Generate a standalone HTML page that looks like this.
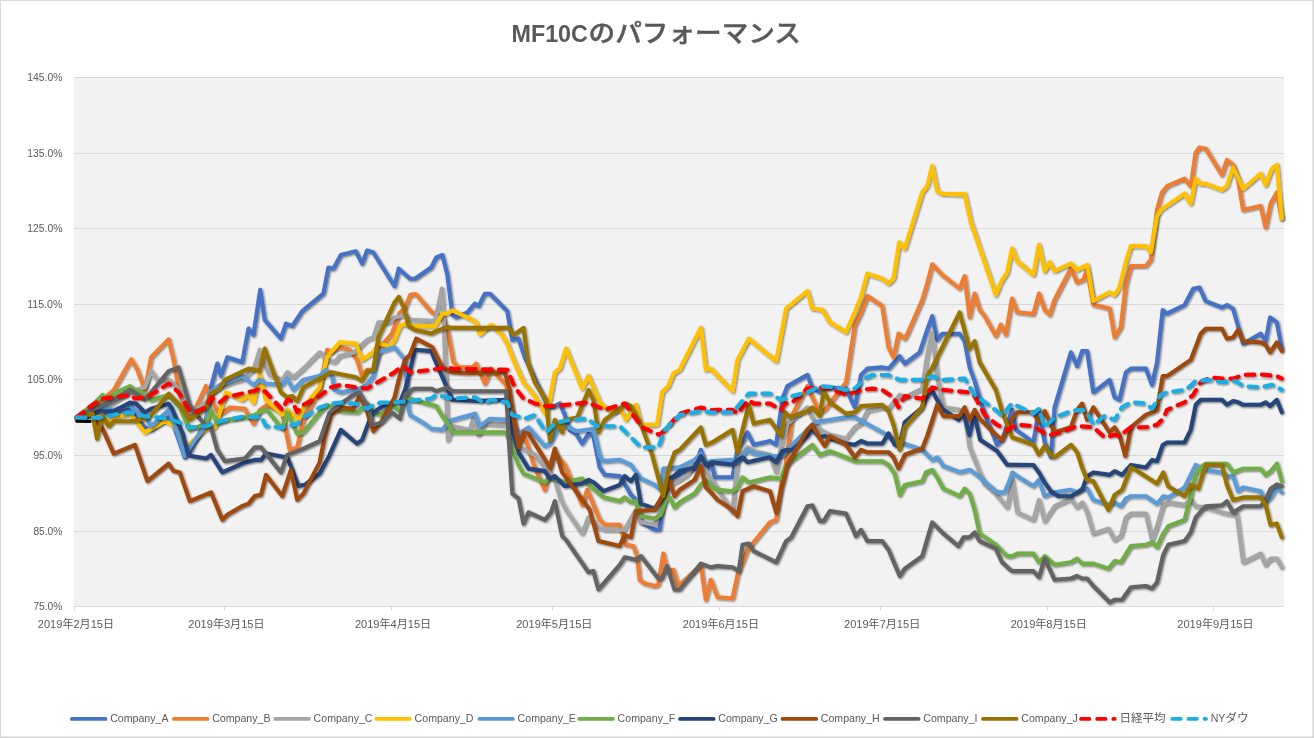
<!DOCTYPE html>
<html lang="ja"><head><meta charset="utf-8"><title>MF10Cのパフォーマンス</title>
<style>
html,body{margin:0;padding:0;background:#fff;}
body{width:1314px;height:738px;overflow:hidden;}
svg{display:block;}
text{font-family:"Liberation Sans","Noto Sans CJK JP",sans-serif;fill:#595959;}
.ax{font-size:11px;}
.ay{font-size:10.9px;}
.lg{font-size:10.6px;}
.jp{font-size:11.5px;}
.tl{font-size:23.5px;font-weight:bold;}
.tj{font-size:24.6px;font-weight:500;stroke:#595959;stroke-width:0.45px;font-family:"Liberation Sans","Noto Sans CJK JP",sans-serif;}
</style></head><body>
<svg width="1314" height="738" viewBox="0 0 1314 738">
<defs><filter id="sh" x="-2%" y="-2%" width="104%" height="108%"><feGaussianBlur in="SourceAlpha" stdDeviation="0.8"/><feOffset dx="0.5" dy="1.4"/><feComponentTransfer><feFuncA type="linear" slope="0.55"/></feComponentTransfer><feMerge><feMergeNode/><feMergeNode in="SourceGraphic"/></feMerge></filter></defs>
<rect x="0" y="0" width="1314" height="738" fill="#fff"/>
<rect x="0" y="0" width="1314" height="1" fill="#D9D9D9"/><rect x="0" y="0" width="1" height="738" fill="#D9D9D9"/><rect x="1312.5" y="0" width="1.5" height="738" fill="#D4D4D4"/><rect x="0" y="736.5" width="1314" height="1.5" fill="#D4D4D4"/>
<rect x="74" y="77" width="1210" height="529" fill="#F2F2F2"/>
<line x1="74" x2="1284" y1="77.5" y2="77.5" stroke="#D9D9D9" stroke-width="1"/>
<text x="62.4" y="81.3" text-anchor="end" class="ay" textLength="35.2" lengthAdjust="spacingAndGlyphs">145.0%</text>
<line x1="74" x2="1284" y1="153.5" y2="153.5" stroke="#D9D9D9" stroke-width="1"/>
<text x="62.4" y="157.3" text-anchor="end" class="ay" textLength="35.2" lengthAdjust="spacingAndGlyphs">135.0%</text>
<line x1="74" x2="1284" y1="228.5" y2="228.5" stroke="#D9D9D9" stroke-width="1"/>
<text x="62.4" y="232.3" text-anchor="end" class="ay" textLength="35.2" lengthAdjust="spacingAndGlyphs">125.0%</text>
<line x1="74" x2="1284" y1="304.5" y2="304.5" stroke="#D9D9D9" stroke-width="1"/>
<text x="62.4" y="308.3" text-anchor="end" class="ay" textLength="35.2" lengthAdjust="spacingAndGlyphs">115.0%</text>
<line x1="74" x2="1284" y1="379.5" y2="379.5" stroke="#D9D9D9" stroke-width="1"/>
<text x="62.4" y="383.3" text-anchor="end" class="ay" textLength="35.2" lengthAdjust="spacingAndGlyphs">105.0%</text>
<line x1="74" x2="1284" y1="455.5" y2="455.5" stroke="#D9D9D9" stroke-width="1"/>
<text x="62.4" y="459.3" text-anchor="end" class="ay" textLength="29.0" lengthAdjust="spacingAndGlyphs">95.0%</text>
<line x1="74" x2="1284" y1="531.5" y2="531.5" stroke="#D9D9D9" stroke-width="1"/>
<text x="62.4" y="535.3" text-anchor="end" class="ay" textLength="29.0" lengthAdjust="spacingAndGlyphs">85.0%</text>
<line x1="74" x2="1284" y1="606.5" y2="606.5" stroke="#D9D9D9" stroke-width="1"/>
<text x="62.4" y="610.3" text-anchor="end" class="ay" textLength="29.0" lengthAdjust="spacingAndGlyphs">75.0%</text>
<line x1="74.5" x2="74.5" y1="606" y2="610.5" stroke="#D9D9D9" stroke-width="1"/>
<text x="75.9" y="627.8" text-anchor="middle" class="ax" textLength="76.2" lengthAdjust="spacingAndGlyphs">2019年2月15日</text>
<line x1="224.5" x2="224.5" y1="606" y2="610.5" stroke="#D9D9D9" stroke-width="1"/>
<text x="226.4" y="627.8" text-anchor="middle" class="ax" textLength="76.2" lengthAdjust="spacingAndGlyphs">2019年3月15日</text>
<line x1="391.5" x2="391.5" y1="606" y2="610.5" stroke="#D9D9D9" stroke-width="1"/>
<text x="393.0" y="627.8" text-anchor="middle" class="ax" textLength="76.2" lengthAdjust="spacingAndGlyphs">2019年4月15日</text>
<line x1="552.5" x2="552.5" y1="606" y2="610.5" stroke="#D9D9D9" stroke-width="1"/>
<text x="554.3" y="627.8" text-anchor="middle" class="ax" textLength="76.2" lengthAdjust="spacingAndGlyphs">2019年5月15日</text>
<line x1="719.5" x2="719.5" y1="606" y2="610.5" stroke="#D9D9D9" stroke-width="1"/>
<text x="720.9" y="627.8" text-anchor="middle" class="ax" textLength="76.2" lengthAdjust="spacingAndGlyphs">2019年6月15日</text>
<line x1="880.5" x2="880.5" y1="606" y2="610.5" stroke="#D9D9D9" stroke-width="1"/>
<text x="882.1" y="627.8" text-anchor="middle" class="ax" textLength="76.2" lengthAdjust="spacingAndGlyphs">2019年7月15日</text>
<line x1="1047.5" x2="1047.5" y1="606" y2="610.5" stroke="#D9D9D9" stroke-width="1"/>
<text x="1048.8" y="627.8" text-anchor="middle" class="ax" textLength="76.2" lengthAdjust="spacingAndGlyphs">2019年8月15日</text>
<line x1="1213.5" x2="1213.5" y1="606" y2="610.5" stroke="#D9D9D9" stroke-width="1"/>
<text x="1215.4" y="627.8" text-anchor="middle" class="ax" textLength="76.2" lengthAdjust="spacingAndGlyphs">2019年9月15日</text>
<path d="M76.8 421.4 L90.3 421.5" fill="none" stroke="#000" stroke-width="2.8" stroke-linecap="round"/>
<path d="M76.8 417.4 L92.5 412.5 L102.5 411.2 L113.7 416.2 L129.9 408.7 L136.2 417.4 L144.9 427.4 L151.1 429.9 L168.6 417.4 L173.6 424.9 L184.8 457.4 L189.8 452.4 L206 419.9 L211 387.3 L217.3 363.6 L221 376 L227.3 357.3 L242.2 362.3 L248.5 328.6 L253.5 334.9 L260.2 289.9 L264.7 319.9 L280.9 338.6 L285.9 323.6 L292.2 326.1 L302.2 311.1 L323.4 293.7 L328.4 267.5 L333.4 268.7 L340.8 255 L355.8 251.2 L362.1 263.7 L367.1 250.5 L373.3 252.5 L394.5 286.2 L398.7 268.7 L410 278.7 L415 278.7 L431.2 267.5 L436.2 257.5 L442.4 255 L447.4 274.9 L452.4 314.9 L456.2 317.4 L467.4 312.4 L474.9 303.7 L478.6 306.2 L484.9 293.7 L489.9 293.7 L507.3 311.1 L512.3 339.9 L518.6 338.6 L524.8 357.3 L534.8 378.5 L546 402.3 L552.3 407.2 L559.7 403.5 L564.7 414.7 L569.7 429.9 L576 433.7 L582.2 443.7 L588.5 433.7 L593.4 436.2 L599.7 467.4 L604.7 474.9 L619.7 476.1 L625.9 486.1 L630.9 494.8 L635.9 499.8 L640.9 522.3 L654.6 529.8 L659.6 529.8 L664.6 494.8 L669.6 477.4 L679.6 474.9 L694.5 468.6 L700.8 449.9 L705.8 468.6 L712 466.1 L715 477.2 L732.5 477.2 L737.5 448.5 L742.5 442.3 L747.4 432.3 L753.7 444.8 L769.9 441 L776.2 444.8 L782.4 398.6 L787.4 386.1 L807.4 374.9 L812.3 387.4 L819.8 392.4 L824.8 387.4 L846 388.6 L854.8 407.3 L861 374.9 L867.3 368.6 L882.2 367.4 L888.5 368.6 L899.7 356.2 L904.7 363.7 L919.7 352.4 L925.9 333.7 L932.2 316.2 L937.2 339.9 L942.2 333.7 L959.6 333.7 L964.6 341.2 L969.6 367.4 L974.6 381.1 L984.6 413.6 L997.1 444.8 L1002.1 439.8 L1009.6 417.3 L1012.2 409.8 L1016 429.8 L1033.4 442.3 L1038.9 409.8 L1044.7 442.3 L1050.9 457.2 L1054.6 407.3 L1070.9 352.4 L1077.1 366.1 L1082.1 351.1 L1087.1 351.1 L1093.3 392.3 L1109.6 379.9 L1114.6 397.3 L1119.5 399.8 L1125.8 372.4 L1130.8 368.6 L1145.8 368.6 L1152 384.8 L1157 362.4 L1162.7 310 L1167 313.7 L1184.5 305 L1193.2 288.7 L1199.4 287.5 L1205.7 301.2 L1221.9 307.5 L1226.9 305 L1233.1 308.7 L1243.1 343.7 L1260.6 333.7 L1265.6 341.2 L1270.1 317.4 L1276.8 322.4 L1281.8 348.6" fill="none" stroke="#4472C4" stroke-width="4.1" stroke-linecap="round" stroke-linejoin="round" filter="url(#sh)"/>
<path d="M76.8 417.4 L92.5 405 L102.5 400 L113.7 390 L131.2 359.3 L137.4 369.8 L144.9 389.8 L151.1 357.3 L168.6 339.4 L173.6 359.8 L179.8 394.8 L189.8 414.7 L196.1 407.2 L206 386 L211 399.8 L219.8 414.7 L229.8 407.5 L244.7 408.7 L253.5 423.7 L259.7 410 L267.2 405 L282.2 412.5 L289.7 449.9 L297.2 447.4 L303.4 419.9 L319.6 390 L327.1 349.8 L330.9 352.3 L339.6 347.3 L349.6 349.8 L357.1 359.8 L362.1 376 L367.1 369.8 L373.3 369.8 L382 344.8 L392 333.6 L394.2 327.4 L399.5 312.9 L405 307.9 L410.2 294.9 L415.7 294.2 L431.9 312.4 L437.2 314.9 L442.7 317.4 L447.9 332.4 L453.4 362.3 L458.6 367.3 L472.4 367.3 L476.1 363.6 L484.9 383.5 L491.1 368.6 L506.1 384.8 L512.3 410 L518.6 442.4 L524.8 437.4 L534.8 467.4 L544.8 489.8 L549.8 469.9 L554.8 452.4 L564.7 464.9 L582.2 504.8 L587.2 489.8 L599.7 519.8 L604.7 524.8 L619.7 524.8 L625.9 544.8 L633.4 546.1 L637.1 556.1 L639.6 579.8 L644.6 583.5 L654.6 586 L658.3 584.8 L663.3 553.6 L667.1 571.1 L673.3 569.8 L678.3 586 L695.8 569.8 L700.8 564.8 L705.8 599.8 L710.8 579.8 L717.5 597.3 L732.5 598.5 L737.5 574.8 L747.4 549.8 L769.9 522.4 L776.2 519.9 L781.1 484.9 L784.9 470 L792.4 414.8 L807.4 386.1 L812.3 397.4 L819.8 412.3 L824.8 409.8 L846 382.4 L854.8 325 L861 312.5 L867.3 296 L882.2 306 L888.5 347.2 L893.5 357.4 L898.5 333.7 L904.7 338.7 L907.2 334.2 L922.2 300 L927.2 283.5 L932.2 264.3 L942.2 274.8 L959.6 288.5 L964.6 276.1 L969.6 317.2 L974.6 293.5 L979.6 309.8 L984.6 316 L995.8 336 L1000.8 324.7 L1005.8 334.7 L1012 298.5 L1017.2 312.2 L1033.4 314 L1038.9 293.5 L1044.7 309.7 L1049.7 314.7 L1054.6 299.7 L1070.9 268.5 L1077.1 282.3 L1083.4 279.8 L1087.1 269.8 L1093.3 304.7 L1109.6 308.5 L1114.6 337.2 L1120.8 327.2 L1125.8 284.8 L1130.8 266 L1145.8 266 L1150.8 259.8 L1157 209.9 L1162 192.4 L1167 186.2 L1184.5 178.7 L1190.7 186.2 L1195.7 152.5 L1199.4 147.5 L1205.7 148.7 L1221.9 174.9 L1226.9 160 L1233.1 164.9 L1238.1 179.9 L1243.1 209.9 L1260.6 206.1 L1265.6 227.4 L1270.6 203.6 L1276.8 192.4 L1281.8 218.6" fill="none" stroke="#ED7D31" stroke-width="4.1" stroke-linecap="round" stroke-linejoin="round" filter="url(#sh)"/>
<path d="M76.8 417.2 L92.5 412.2 L113.7 402.3 L129.9 392.3 L144.9 387.3 L151.1 371.1 L157.4 379.8 L168.6 379.8 L179.8 389.8 L189.8 412.2 L206 402.3 L211 394.8 L219.8 387.3 L232.3 382.3 L242.2 379.8 L253.5 369.8 L259.7 349.8 L266 367.3 L269.7 374.8 L282.2 379.8 L287.2 372.3 L293.4 377.3 L303.4 368.6 L319.6 352.3 L327.1 359.8 L334.6 362.3 L339.6 356.1 L354.6 352.3 L362.1 344.8 L367.1 339.9 L373.3 337.4 L378.3 322.4 L389.5 322.4 L394.5 317.4 L405 314.9 L410 319.9 L434.9 321.1 L441.9 288.7 L443.7 319.9 L446.2 389.8 L447.9 439.9 L452.4 426.2 L469.9 429.9 L473.6 417.4 L478.6 434.9 L484.9 423.7 L507.3 424.9 L512.3 442.4 L524.8 449.9 L534.8 454.9 L544.8 467.4 L554.8 479.9 L561 499.8 L566 509.8 L582.2 533.5 L588.5 517.3 L598.4 527.3 L604.7 529.8 L624.6 529.8 L635.9 509.8 L640.9 522.3 L654.6 524.8 L660.8 509.8 L665.8 497.3 L669.6 484.8 L679.6 479.9 L687.1 474.9 L694.5 464.9 L700.8 459.9 L707 472.4 L712 479.9 L732.5 512.4 L737.5 459.8 L747.4 447.3 L753.7 451 L769.9 454.8 L776.2 472.2 L782.4 439.8 L787.4 423.6 L807.4 407.3 L812.3 417.3 L819.8 429.8 L829.8 434.8 L846 438.5 L854.8 427.3 L861 423.6 L867.3 411.1 L882.2 407.3 L888.5 408.6 L899.7 394.9 L904.7 397.4 L922.2 388.6 L927.2 354.9 L932.2 332.5 L937.2 377.4 L943.4 407.3 L959.6 409.8 L964.6 414.8 L969.6 447.3 L974.6 459.8 L979.6 472.2 L984.6 484 L995.8 493.7 L1007.1 507.4 L1010.8 489.9 L1012.2 479.9 L1017.2 512.4 L1033.4 519.9 L1038.9 499.9 L1044.7 521.1 L1054.6 506.2 L1070.9 498.7 L1077.1 507.4 L1082.1 502.4 L1087.1 512.4 L1093.3 533.6 L1108.3 528.6 L1114.6 539.9 L1120.8 536.1 L1125.8 517.4 L1130.8 513.6 L1145.8 513.6 L1152 539.9 L1157 526.1 L1163.2 504.9 L1168.2 502.4 L1184.5 504.9 L1190.7 499.9 L1195.7 506.2 L1205.7 507.4 L1221.9 512.4 L1226.9 513.6 L1236.9 514.9 L1243.1 562.3 L1260.6 553.6 L1265.6 564.8 L1270.6 558.6 L1276.8 558.6 L1281.8 567.3" fill="none" stroke="#A5A5A5" stroke-width="4.1" stroke-linecap="round" stroke-linejoin="round" filter="url(#sh)"/>
<path d="M76.8 417.4 L92.5 414.9 L102.5 419.9 L108.7 423.7 L113.7 417.4 L129.9 413.7 L136.2 421.2 L144.9 432.4 L164.9 421.2 L173.6 424.9 L179.8 436.2 L184.8 447.4 L189.8 443.7 L206 428.7 L214.8 427.4 L219.8 412.5 L226 392.5 L242.2 400 L248.5 395 L253.5 402.5 L259.7 375 L266 400 L274.7 407.5 L282.2 414.9 L287.2 410 L298.4 419.9 L303.4 407.5 L319.6 387.3 L327.1 357.3 L330.9 352.3 L339.6 342.3 L355.8 343.6 L362.1 359.8 L373.3 352.3 L378.3 343.6 L389.5 346.1 L394.5 339.9 L400 326.1 L405 323.6 L410 326.1 L434.9 326.1 L442.4 313.6 L447.4 313.6 L452.4 310.4 L472.4 319.9 L476.1 322.4 L479.9 334.4 L491.1 324.9 L501.1 333.6 L507.3 343.6 L512.3 357.3 L523.5 382.3 L534.8 396 L546 414.7 L549.8 399.8 L554.8 372.3 L559.7 368.6 L566 348.6 L582.2 388.5 L588.5 376 L599.7 402.3 L604.7 407.2 L614.7 412.2 L620.9 409.7 L625.9 419.7 L635.9 404.8 L640.9 424.7 L657.1 424.7 L662.1 392.3 L668.3 386 L673.3 373.5 L679.6 369.8 L700.8 327.9 L705.8 369.8 L710.8 368.6 L732.5 391.1 L737.5 359.9 L748.7 338.7 L776.2 361.2 L786.1 308.7 L807.4 291 L812.3 308.5 L822.3 309.8 L829.8 322.2 L846 332.2 L854.8 312.3 L861 297.3 L867.3 273.6 L882.2 278.6 L888.5 283.5 L893.5 278.6 L899.2 242.4 L904.7 248.6 L922.2 192.4 L927.2 186.2 L932.2 166.2 L937.2 191.2 L942.2 193.7 L959.6 194.4 L964.6 193.7 L970.9 222.4 L995.8 294.8 L1000.8 282.3 L1007.1 272.3 L1012 248.6 L1017.2 261.1 L1033.4 274.8 L1038.9 244.8 L1044.7 271 L1049.7 262.3 L1054.6 271 L1070.9 263.5 L1077.1 269.8 L1087.1 264.8 L1093.3 301 L1109.6 292.3 L1114.6 294.8 L1119.5 287.3 L1125.8 262.3 L1130.8 246.1 L1145.8 246.1 L1150.8 252.3 L1157 216.1 L1160.7 209.9 L1184.5 193.7 L1190.7 203.6 L1195.7 178.7 L1200.7 183.7 L1205.7 183.7 L1221.9 189.9 L1226.9 186.2 L1233.1 167.4 L1243.1 188.7 L1260.6 173.7 L1265.6 184.9 L1271.8 168.7 L1276.8 164.9 L1281.8 218.6" fill="none" stroke="#FFC000" stroke-width="4.1" stroke-linecap="round" stroke-linejoin="round" filter="url(#sh)"/>
<path d="M76.8 417.4 L92.5 412.5 L102.5 407.5 L113.7 410 L129.9 405 L136.2 411.2 L144.9 414.9 L151.1 426.2 L168.6 410 L173.6 421.2 L184.8 456.1 L189.8 447.4 L206 424.9 L209.8 392.3 L219.8 384.8 L232.3 379.8 L242.2 376 L253.5 384.8 L259.7 379.8 L266 383.5 L282.2 384.8 L287.2 378.5 L293.4 389.8 L303.4 379.8 L319.6 376 L325.9 369.8 L332.1 376 L334.6 389.8 L340.8 392.3 L357.1 389.8 L367.1 384.8 L373.3 376 L378.3 352.3 L394.5 347.3 L405 359.8 L408.7 410 L410 414.9 L422.5 422.4 L431.2 428.7 L442.4 429.9 L448.7 421.2 L452.4 419.9 L474.9 413.7 L479.9 426.2 L489.9 418.7 L507.3 419.9 L512.3 424.9 L518.6 433.7 L528.5 427.4 L544.8 446.2 L549.8 443.7 L559.7 424.9 L566 426.2 L576 431.2 L587.2 429.9 L593.4 428.7 L599.7 456.1 L603.4 461.1 L619.7 459.9 L630.9 464.9 L640.9 478.6 L654.6 484.8 L660.8 489.8 L663.3 468.6 L679.6 467.4 L694.5 459.9 L700.8 453.6 L705.8 462.4 L712 461.1 L732.5 459.8 L737.5 462.3 L747.4 449.8 L753.7 453.5 L769.9 456 L782.4 456 L787.4 449.8 L807.4 429.8 L814.8 422.3 L846 417.3 L854.8 417.3 L882.2 432.3 L899.7 442.3 L922.2 449.8 L932.2 459.8 L937.2 457.3 L943.4 466 L959.6 472.2 L969.6 469.7 L979.6 477.2 L997.1 492.4 L1004.6 492.4 L1010.8 477.4 L1012.2 472.5 L1017.2 476.2 L1033.4 486.2 L1038.9 479.9 L1044.7 496.2 L1054.6 492.4 L1070.9 489.9 L1077.1 492.4 L1082.1 488.7 L1087.1 488.7 L1093.3 499.9 L1108.3 504.9 L1114.6 502.4 L1120.8 506.2 L1125.8 498.7 L1130.8 496.2 L1145.8 496.2 L1157 503.7 L1163.2 496.2 L1168.2 497.4 L1184.5 487.4 L1195.7 465 L1205.7 470 L1221.9 472.5 L1226.9 476.2 L1233.1 476.2 L1238.1 491.2 L1243.1 487.4 L1260.6 491.2 L1265.6 502.4 L1270.6 497.4 L1276.8 487.4 L1281.8 492.4" fill="none" stroke="#5B9BD5" stroke-width="4.1" stroke-linecap="round" stroke-linejoin="round" filter="url(#sh)"/>
<path d="M76.8 417.4 L92.5 405 L102.5 395 L107.4 400 L113.7 393.7 L129.9 386.2 L134.9 390 L144.9 393.7 L151.1 400 L168.6 395 L179.8 407.5 L189.8 429.9 L206 423.7 L211 410 L217.3 423.7 L227.3 419.9 L244.7 417.4 L254.7 414.9 L266 408.7 L282.2 428.7 L287.2 412.5 L297.2 433.7 L303.4 432.4 L319.6 412.5 L327.1 405 L340.8 411.2 L357.1 412.5 L367.1 403.7 L373.3 412.5 L380.8 414.9 L392 405 L395 407.5 L400 411.2 L405 397.5 L410 398.7 L436.2 406.2 L442.4 416.2 L448.7 424.9 L452.4 432.4 L506.1 432.4 L509.8 442.4 L518.6 464.9 L523.5 473.6 L544.8 482.3 L549.8 477.4 L564.7 482.3 L582.2 478.6 L588.5 484.8 L603.4 497.3 L619.7 501.1 L624.6 497.3 L630.9 502.3 L635.9 501.1 L640.9 516 L654.6 518.5 L660.8 514.8 L665.8 499.8 L669.6 497.3 L674.6 507.3 L679.6 502.3 L694.5 493.6 L700.8 484.8 L705.8 479.9 L712 487.3 L717.5 489.9 L732.5 491.2 L737.5 487.4 L742.5 477.4 L748.7 482.4 L769.9 477.4 L781.1 478.7 L784.9 467.5 L792.4 460 L812.3 445 L819.8 455 L829.8 451.2 L846 457.5 L854.8 461.2 L882.2 461.2 L888.5 465 L894.7 473.7 L899.7 494.9 L904.7 484.9 L922.2 481.2 L925.9 472.5 L932.2 470 L937.2 477.4 L943.4 488.7 L959.6 496.2 L964.6 488.7 L969.6 493.7 L974.6 509.9 L979.6 533.6 L995.8 544.8 L1007.1 556.1 L1012.2 556.1 L1017.2 553.6 L1033.4 553.6 L1038.9 562.3 L1044.7 556.1 L1054.6 564.8 L1070.9 562.3 L1077.1 558.6 L1082.1 563.6 L1093.3 563.6 L1108.3 568.6 L1114.6 561.1 L1120.8 562.3 L1130.8 546.1 L1145.8 544.8 L1152 542.3 L1157 547.3 L1163.2 533.6 L1168.2 526.1 L1184.5 519.9 L1190.7 496.2 L1195.7 474.9 L1200.7 467.5 L1205.7 463.7 L1226.9 463.7 L1233.1 472.5 L1243.1 468.7 L1260.6 468.7 L1265.6 474.9 L1270.6 471.2 L1276.8 463.7 L1281.8 481.2" fill="none" stroke="#70AD47" stroke-width="4.1" stroke-linecap="round" stroke-linejoin="round" filter="url(#sh)"/>
<path d="M76.8 417.4 L92.5 411.2 L113.7 411.2 L129.9 402.5 L136.2 403.7 L144.9 412.5 L151.1 408.7 L168.6 403.7 L172.1 408.7 L182.8 433.7 L188.1 454.4 L191.1 456.1 L206 458.6 L211 454.9 L222.3 472.4 L244.7 462.4 L254.7 459.9 L261 459.9 L266 453.6 L287.2 457.4 L290.9 466.1 L298.4 486.1 L304.6 484.8 L319.6 473.6 L329.6 454.9 L340.8 429.9 L357.1 443.7 L362.1 439.9 L369.6 419.9 L373.3 412.5 L380.8 407.5 L392 402.5 L400 402.3 L405 389.8 L408.7 376 L415 349.8 L431.2 351.1 L442.4 377.3 L452.4 399.8 L474.9 401 L507.3 399.8 L512.3 429.9 L518.6 452.4 L528.5 468.6 L544.8 471.1 L549.8 478.6 L554.8 476.1 L564.7 486.1 L582.2 483.6 L588.5 479.9 L593.4 482.3 L603.4 491.1 L619.7 484.8 L624.6 476.1 L630.9 481.1 L635.9 474.9 L640.9 503.6 L654.6 508.6 L660.8 499.8 L665.8 489.8 L669.6 479.9 L679.6 471.1 L694.5 467.4 L700.8 456.1 L705.8 464.9 L712 462.4 L732.5 464.8 L737.5 459.8 L742.5 457.3 L747.4 462.3 L769.9 457.3 L776.2 462.3 L782.4 451 L787.4 449.8 L792.4 449.8 L807.4 436 L812.3 429.8 L819.8 437.3 L824.8 436 L829.8 438.5 L846 443.5 L854.8 444.8 L861 441 L867.3 443.5 L882.2 443.5 L888.5 433.5 L894.7 444.8 L899.5 446.8 L904.7 422.3 L920.9 408.6 L926.2 398.6 L931.7 389.9 L937.2 399.9 L942.4 409.1 L958.6 419.8 L963.9 414.1 L969.4 434.8 L974.6 414.8 L980.1 439.8 L997.1 451 L1007.1 464.8 L1033.4 465 L1038.9 472.5 L1044.7 482.4 L1050.9 491.2 L1058.4 496.2 L1070.9 496.2 L1082.1 489.9 L1087.1 476.2 L1093.3 472.5 L1109.6 474.9 L1114.6 471.2 L1122 474.9 L1130.8 465 L1145.8 467.5 L1152 460 L1157 461.2 L1162.7 445 L1167 442.5 L1184.5 442.5 L1190.7 429.8 L1195.7 404.8 L1200.7 399.8 L1221.9 399.8 L1226.9 404.8 L1233.1 401.1 L1238.1 402.3 L1243.1 404.8 L1260.6 404.8 L1265.6 402.3 L1270.1 406.1 L1276.8 399.8 L1281.8 412.3" fill="none" stroke="#264478" stroke-width="4.1" stroke-linecap="round" stroke-linejoin="round" filter="url(#sh)"/>
<path d="M76.8 417.4 L92.5 414.9 L97 422.4 L102.5 428.7 L113.7 453.6 L134.9 444.9 L147.4 481.1 L168.6 463.6 L173.6 471.1 L179.8 472.4 L189.8 501.1 L211 492.3 L222.3 519.8 L227.3 514.8 L242.2 506.1 L248.5 503.6 L254.7 496.1 L261 494.8 L266 474.9 L282.2 496.1 L290.9 469.9 L297.2 499.8 L303.4 493.6 L319.6 462.4 L324.6 437.4 L330.9 414.9 L340.8 407.5 L353.3 408.7 L359.6 396.2 L365.8 407.5 L373.3 431.2 L380.8 422.4 L394.5 397.5 L398.7 379.8 L405 359.8 L410 354.8 L416.2 338.6 L432.4 347.3 L442.4 367.3 L452.4 372.3 L467.4 373.1 L504.8 372.3 L509.8 389.8 L512.3 410 L518.6 447.4 L523.5 432.4 L528.5 433.7 L549.8 467.4 L554.8 448.6 L562.2 472.4 L582.2 499.8 L589.7 509.8 L598.4 541 L619.7 546 L624.6 534.8 L630.9 537.3 L635.9 511.1 L654.6 509.8 L660.8 498.6 L665.8 489.8 L669.6 481.1 L674.6 496.1 L679.6 489.8 L694.5 479.9 L700.8 466.1 L705.8 487.3 L712 493.6 L717.5 499.9 L732.5 509.9 L737.5 516.1 L742.5 491.2 L753.7 486.2 L769.9 491.2 L776.2 512.4 L781.1 489.9 L784.9 474.9 L787.4 464.8 L807.4 429.8 L812.3 424.8 L819.8 438.5 L824.8 446 L829.8 436 L846 444.8 L854.8 457.3 L861 449.8 L867.3 452.3 L888.5 452.3 L893.5 457.3 L898.5 468.5 L904.7 454.8 L922.2 448.5 L927.2 436 L937.2 404.8 L943.4 416.1 L959.6 416.1 L964.6 407.3 L969.6 419.8 L974.6 409.8 L979.6 418.6 L997.1 436 L1002.1 439.8 L1007.1 429.8 L1012.2 418.5 L1017.2 412.3 L1033.4 412.3 L1038.9 422.3 L1044.7 411.1 L1054.6 432.3 L1070.9 427.3 L1077.1 409.8 L1082.1 403.6 L1087.1 419.8 L1093.3 407.3 L1109.6 432.3 L1114.6 427.3 L1119.5 434.8 L1125.3 456 L1130.8 427.3 L1145.8 414.8 L1152 412.3 L1157 409.8 L1162.7 376.1 L1167 376.1 L1190.7 359.9 L1200.7 333.7 L1205.7 328.7 L1221.9 328.7 L1226.9 338.7 L1233.1 337.4 L1238.1 329.9 L1243.1 341.2 L1260.6 342.4 L1265.6 344.9 L1270.1 352.4 L1276.8 342.4 L1281.8 351.1" fill="none" stroke="#9E480E" stroke-width="4.1" stroke-linecap="round" stroke-linejoin="round" filter="url(#sh)"/>
<path d="M76.8 417.2 L92.5 409.7 L113.7 399.8 L129.9 389.8 L144.9 399.8 L151.1 392.3 L168.6 371.1 L178.6 367.3 L189.8 404.8 L194.8 412.2 L206 426.2 L211 427.4 L217.3 449.9 L224.8 461.1 L244.7 458.6 L254.7 447.4 L261 447.4 L280.9 472.4 L287.2 454.9 L303.4 448.6 L319.6 441.2 L329.6 412.5 L340.8 403.7 L353.3 395 L359.6 392.5 L367.1 405 L373.3 424.9 L382 422.4 L392 412.5 L400 418.7 L405 395 L413.7 388.7 L431.2 388.7 L436.2 391.2 L447.4 387.5 L452.4 391.2 L506.1 391.2 L509.8 454.9 L512.3 493.7 L518.6 498.7 L523.5 523.6 L528.5 512.4 L544.8 519.9 L551 512.4 L554.8 501.2 L562.2 536.1 L566 539.9 L588.5 572.3 L593.4 571.1 L598.4 589.3 L619.7 564.8 L624.6 557.3 L635.9 559.8 L640.9 556.1 L658.3 578.5 L662.1 578.5 L667.1 566.1 L674.6 589.8 L679.6 589.8 L700.8 563.6 L710.8 567.3 L717.5 566.1 L732.5 567.3 L738.7 571.1 L742.5 544.8 L748.7 543.6 L753.7 551.1 L776.2 562.3 L786.1 541.1 L791.1 537.4 L807.4 506.2 L812.3 505.4 L819.8 521.1 L823.6 521.1 L829.8 511.1 L846 513.6 L856 536.1 L861 529.9 L867.3 541.1 L882.2 541.1 L888.5 549.8 L899.7 576 L904.7 568.6 L922.2 556.1 L932.2 522.4 L943.4 533.6 L958.4 546.1 L963.4 537.4 L969.6 537.4 L974.6 532.4 L979.6 541.1 L995.8 548.6 L1002.1 562.3 L1009.6 569.3 L1012.2 571.1 L1033.4 571.1 L1038.9 577.3 L1044.7 558.6 L1054.6 579.8 L1070.9 578.5 L1077.1 576 L1082.1 578.5 L1087.1 578.5 L1093.3 586 L1109.6 602.3 L1114.6 599.8 L1122 599.8 L1130.8 587.3 L1145.8 586 L1152 588.5 L1157 582.3 L1163.2 554.8 L1168.2 544.8 L1184.5 541.1 L1190.7 532.4 L1195.7 517.4 L1205.7 506.2 L1221.9 505.4 L1226.9 501.2 L1233.1 512.4 L1243.1 506.2 L1260.6 506.2 L1265.6 499.9 L1270.6 488.7 L1276.8 484.4 L1281.8 486.2" fill="none" stroke="#636363" stroke-width="4.1" stroke-linecap="round" stroke-linejoin="round" filter="url(#sh)"/>
<path d="M76.8 417.4 L92.5 413.7 L97 438.7 L102.5 414.9 L108.7 426.2 L113.7 421.2 L131.2 421.2 L144.9 418.7 L151.1 414.9 L168.6 393.7 L179.8 405 L189.8 419.9 L206 407.5 L211 393.5 L219.8 388.5 L224.8 379.8 L248.5 368.6 L259.7 371.1 L264.7 348.6 L280.9 392.3 L287.2 397.3 L292.2 396 L297.2 401 L303.4 387.3 L319.6 378.5 L330.9 372.3 L355.8 377.3 L362.1 381 L367.1 371.1 L373.3 369.8 L378.3 337.4 L394.5 302.4 L398.7 296.9 L403.7 307.4 L408.7 326.1 L415 329.9 L431.2 333.6 L436.2 331.1 L447.4 326.9 L452.4 327.9 L508.6 327.9 L513.6 334.9 L523.5 327.9 L528.5 364.8 L534.8 382.3 L546 399.8 L549.8 439.9 L554.8 419.9 L562.2 432.4 L564.7 419.9 L577.2 417.4 L588.5 390 L593.4 400 L598.4 432.4 L604.7 419.9 L609.7 416.2 L625.9 403.7 L630.9 406.2 L642.1 427.4 L652.1 454.9 L663.3 496.1 L668.3 469.9 L674.6 452.4 L679.6 449.9 L700.8 427.4 L705.8 444.9 L712 442.4 L732.5 429.8 L737.5 452.3 L742.5 429.8 L748.7 404.8 L753.7 423.6 L769.9 419.8 L781.1 436 L784.9 412.3 L789.9 417.3 L807.4 411.1 L812.3 407.3 L819.8 416.1 L823.6 391.1 L829.8 402.3 L846 413.6 L854.8 412.3 L861 406.1 L882.2 404.8 L888.5 411.1 L893.5 424.8 L899.7 449.8 L904.7 427.3 L922.2 407.3 L927.2 376.1 L932.2 367.4 L959.6 312.5 L969.6 348.7 L974.6 341.2 L979.6 362.4 L995.8 389.9 L1002.1 411.1 L1007.1 424.8 L1012.2 437.3 L1033.4 444.8 L1038.9 454.7 L1044.7 446 L1050.9 454.7 L1054.6 457.2 L1070.9 444.8 L1077.1 452.2 L1082.1 467.5 L1087.1 479.9 L1093.3 481.2 L1108.3 509.9 L1114.6 494.9 L1122 489.9 L1130.8 467.5 L1135.8 470 L1157 483.7 L1163.2 472.5 L1168.2 486.2 L1184.5 496.2 L1190.7 484.9 L1198.2 488.7 L1205.7 465 L1221.9 465 L1226.9 484.9 L1233.1 499.9 L1243.1 497.4 L1260.6 497.4 L1265.6 504.9 L1270.6 524.9 L1276.8 523.6 L1281.8 537.4" fill="none" stroke="#997300" stroke-width="4.1" stroke-linecap="round" stroke-linejoin="round" filter="url(#sh)"/>
<path d="M76.8 417.2 L92.5 404.8 L102.5 398.5 L113.7 397.3 L129.9 394.8 L134.9 398.5 L144.9 397.3 L151.1 394.8 L168.6 383.5 L178.6 392.3 L189.8 411 L194.8 412.2 L206 407.2 L211 397.3 L219.8 402.3 L226 397.3 L242.2 393.5 L253.5 391 L259.7 388.5 L266 392.3 L282.2 409.7 L287.2 399.8 L292.2 401 L297.2 412.2 L303.4 404.8 L319.6 396 L330.9 387.3 L340.8 384.8 L355.8 387.3 L367.1 388.5 L373.3 384.8 L394.5 372.3 L398.7 368.6 L405 367.3 L410 372.3 L431.2 369.8 L447.4 367.3 L452.4 368.6 L507.3 369.8 L514.8 387.3 L523.5 398.5 L534.8 403.5 L546 406 L556 406 L577.2 403.5 L587.2 402.3 L604.7 409.7 L624.6 403.5 L642.1 427.4 L659.6 434.9 L664.6 429.9 L679.6 413.7 L700.8 407.5 L710.8 410 L732.5 409.8 L737.5 413.6 L748.7 399.9 L753.7 403.6 L769.9 403.6 L781.1 409.8 L784.9 403.6 L792.4 402.3 L807.4 388.6 L819.8 387.4 L829.8 388.6 L846 394.9 L861 389.9 L872.3 388.6 L882.2 389.9 L893.5 397.4 L898.5 407.3 L904.7 396.1 L922.2 398.6 L932.2 387.4 L943.4 389.9 L969.6 392.4 L974.6 396.1 L984.6 414.8 L997.1 424.8 L1007.1 429.8 L1017.2 424.8 L1033.4 426 L1044.7 433.5 L1050.9 434.8 L1060.9 432.3 L1077.1 426 L1093.3 427.3 L1104.6 437.3 L1114.6 434.8 L1119.5 436 L1130.8 427.3 L1145.8 427.3 L1157 424.8 L1163.2 418.5 L1167 409.8 L1184.5 402.3 L1193.2 394.8 L1200.7 382.3 L1210.7 377.4 L1221.9 378.6 L1233.1 378.6 L1243.1 374.9 L1260.6 374.4 L1276.8 376.1 L1281.8 378.6" fill="none" stroke="#FF0000" stroke-width="4.1" stroke-linecap="round" stroke-linejoin="round" stroke-dasharray="8.4 7.7" filter="url(#sh)"/>
<path d="M76.8 417.4 L97.5 417.9 L113.7 414.9 L129.9 412.5 L144.9 416.2 L168.6 418.7 L179.8 422.4 L189.8 427.4 L206 426.2 L219.8 421.2 L244.7 416.2 L254.7 417.4 L261 416.2 L266 426.2 L282.2 427.4 L292.2 424.9 L297.2 423.7 L303.4 417.4 L319.6 407.5 L330.9 403.7 L340.8 402.5 L355.8 403.7 L367.1 408.7 L373.3 405 L380.8 402.5 L394.5 402.5 L431.2 398.5 L436.2 394.8 L452.4 398.5 L474.9 397.3 L484.9 403.5 L491.1 399.8 L507.3 402.3 L512.3 414.9 L524.8 418.7 L534.8 414.9 L546 432.4 L556 422.4 L569.7 419.9 L587.2 418.7 L597.2 426.2 L619.7 426.2 L640.9 447.4 L658.3 447.4 L664.6 429.9 L679.6 414.9 L700.8 411.2 L712 412.5 L732.5 412.3 L748.7 393.6 L769.9 393.6 L781.1 399.9 L792.4 396.1 L807.4 392.4 L819.8 386.1 L834.8 387.4 L846 389.9 L854.8 388.6 L864.8 378.6 L872.3 374.9 L888.5 374.9 L899.7 379.9 L922.2 379.9 L932.2 376.1 L943.4 379.9 L964.6 378.6 L974.6 394.9 L997.1 411.1 L1002.1 416.1 L1009.6 406.1 L1012.2 403.6 L1033.4 413.5 L1038.9 408.6 L1044.7 427.3 L1054.6 417.3 L1070.9 411.1 L1082.1 409.8 L1087.1 412.3 L1093.3 424.8 L1104.6 416 L1114.6 419.8 L1122 407.3 L1130.8 402.3 L1145.8 403.6 L1152 408.6 L1160.7 394.8 L1167 392.3 L1185.7 389.8 L1195.7 381.1 L1208.2 379.9 L1221.9 382.3 L1235.6 381.1 L1243.1 386.1 L1260.6 387.3 L1271.8 384.8 L1281.8 389.8" fill="none" stroke="#1CADE4" stroke-width="4.1" stroke-linecap="round" stroke-linejoin="round" stroke-dasharray="8.4 7.7" filter="url(#sh)"/>
<text x="511.5" y="41.8" class="title"><tspan class="tl" textLength="76.4" lengthAdjust="spacingAndGlyphs">MF10C</tspan><tspan class="tj" x="588.6" textLength="212.4" lengthAdjust="spacingAndGlyphs">のパフォーマンス</tspan></text>
<line x1="71.9" x2="105.5" y1="718.9" y2="718.9" stroke="#4472C4" stroke-width="3.8" stroke-linecap="round"/>
<text x="110.2" y="721.8" class="lg">Company_A</text>
<line x1="173.9" x2="207.5" y1="718.9" y2="718.9" stroke="#ED7D31" stroke-width="3.8" stroke-linecap="round"/>
<text x="212.2" y="721.8" class="lg">Company_B</text>
<line x1="275.3" x2="308.9" y1="718.9" y2="718.9" stroke="#A5A5A5" stroke-width="3.8" stroke-linecap="round"/>
<text x="313.6" y="721.8" class="lg">Company_C</text>
<line x1="376.3" x2="409.9" y1="718.9" y2="718.9" stroke="#FFC000" stroke-width="3.8" stroke-linecap="round"/>
<text x="414.6" y="721.8" class="lg">Company_D</text>
<line x1="479.3" x2="512.9" y1="718.9" y2="718.9" stroke="#5B9BD5" stroke-width="3.8" stroke-linecap="round"/>
<text x="517.6" y="721.8" class="lg">Company_E</text>
<line x1="579.3" x2="612.9" y1="718.9" y2="718.9" stroke="#70AD47" stroke-width="3.8" stroke-linecap="round"/>
<text x="617.6" y="721.8" class="lg">Company_F</text>
<line x1="680.0" x2="713.6" y1="718.9" y2="718.9" stroke="#264478" stroke-width="3.8" stroke-linecap="round"/>
<text x="718.3" y="721.8" class="lg">Company_G</text>
<line x1="782.5" x2="816.1" y1="718.9" y2="718.9" stroke="#9E480E" stroke-width="3.8" stroke-linecap="round"/>
<text x="820.8" y="721.8" class="lg">Company_H</text>
<line x1="885.0" x2="918.6" y1="718.9" y2="718.9" stroke="#636363" stroke-width="3.8" stroke-linecap="round"/>
<text x="923.3" y="721.8" class="lg">Company_I</text>
<line x1="983.0" x2="1016.6" y1="718.9" y2="718.9" stroke="#997300" stroke-width="3.8" stroke-linecap="round"/>
<text x="1021.3" y="721.8" class="lg">Company_J</text>
<line x1="1081.1" x2="1114.7" y1="718.9" y2="718.9" stroke="#FF0000" stroke-width="3.8" stroke-linecap="round" stroke-dasharray="8.4 7.7"/>
<text x="1119.4" y="721.8" class="lg"><tspan class="jp">日経平均</tspan></text>
<line x1="1172.4" x2="1206.0" y1="718.9" y2="718.9" stroke="#1CADE4" stroke-width="3.8" stroke-linecap="round" stroke-dasharray="8.4 7.7"/>
<text x="1210.7" y="721.8" class="lg">NY<tspan class="jp">ダウ</tspan></text>
</svg>
</body></html>
